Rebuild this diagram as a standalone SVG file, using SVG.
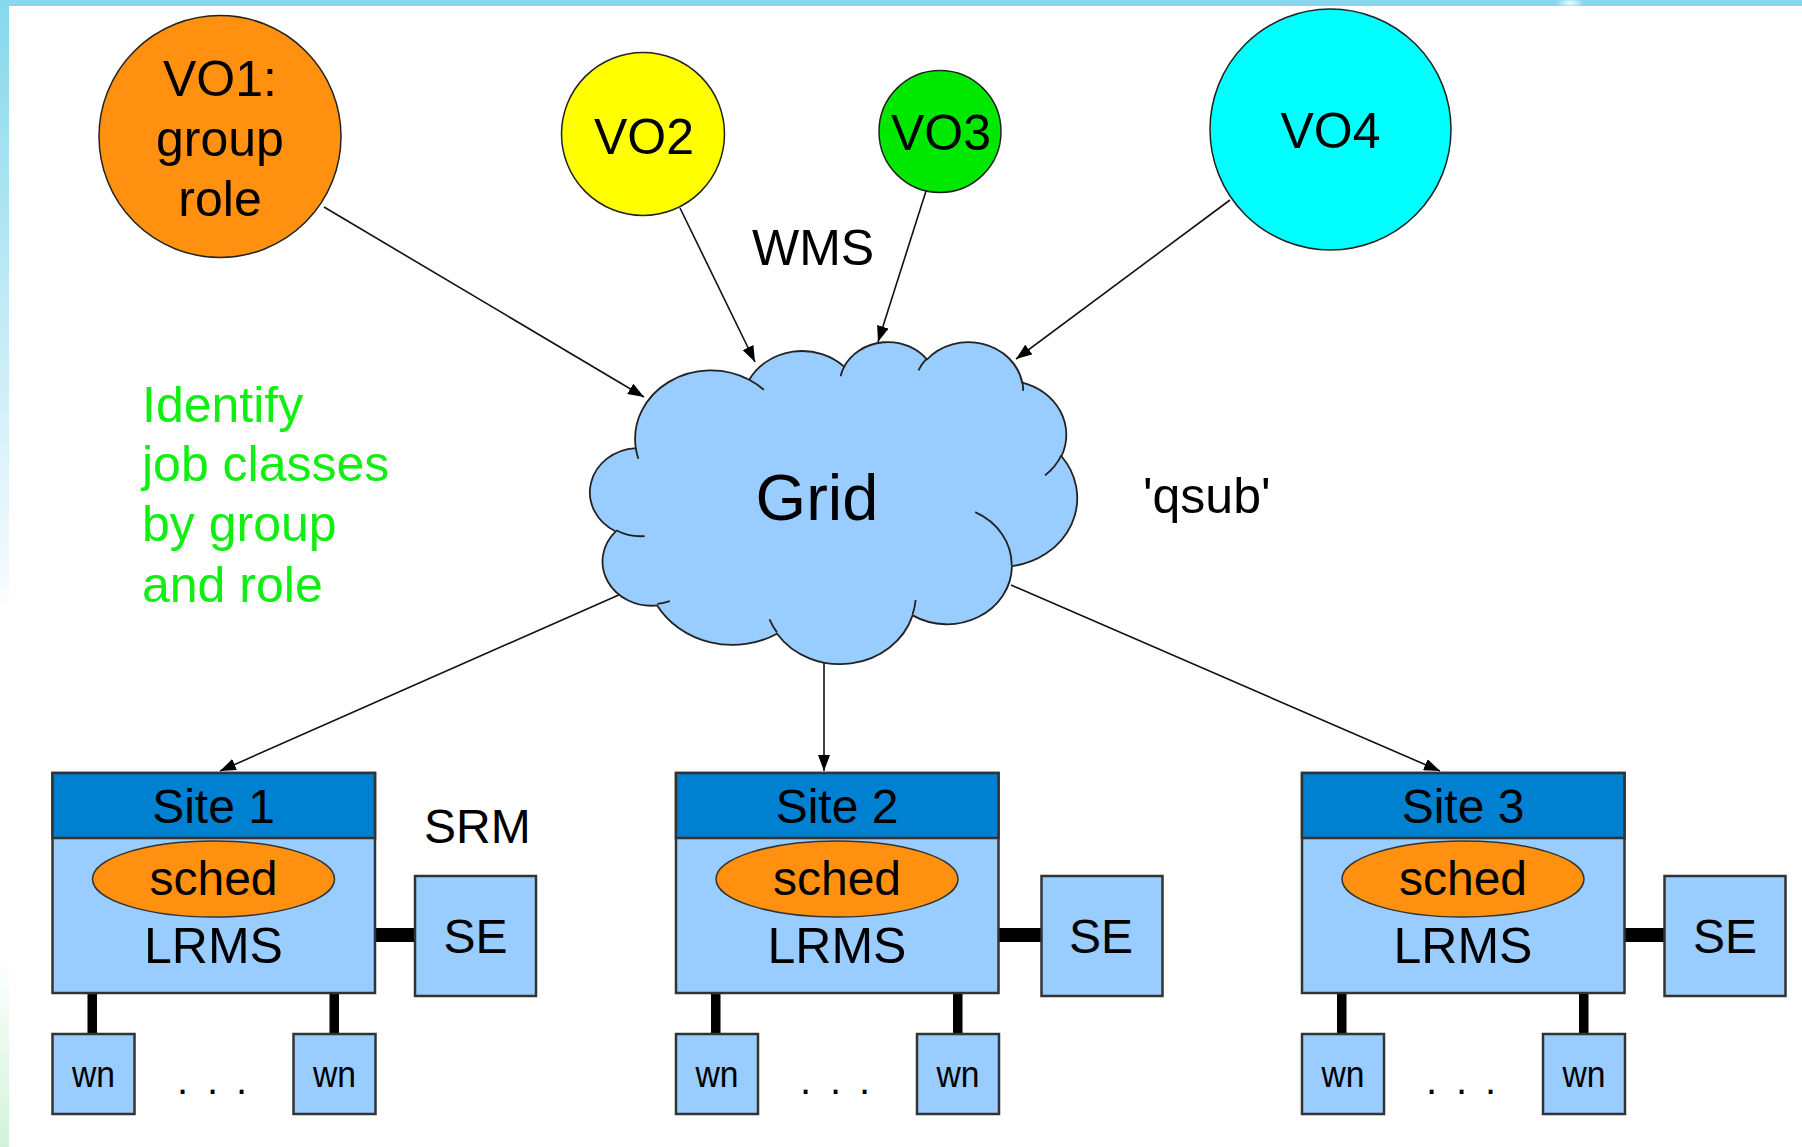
<svg xmlns="http://www.w3.org/2000/svg" width="1802" height="1147" viewBox="0 0 1802 1147">
  <style>
    text { font-family: "Liberation Sans", Arial, sans-serif; fill: #000; }
    .c { text-anchor: middle; }
    .f50 { font-size: 50px; }
    .f48 { font-size: 48px; }
    .green { fill: #11ee11; font-size: 50px; }
    .vo { stroke: #222; stroke-width: 1.5; }
    .body { fill: #99ccff; stroke: #333; stroke-width: 2.5; }
    .head { fill: #0080d0; stroke: #333; stroke-width: 2.5; }
    .box { fill: #99ccff; stroke: #333; stroke-width: 2.5; }
    .sched { fill: #ff9010; stroke: #333; stroke-width: 1.5; }
    .conn { stroke: #111; stroke-width: 1.6; fill: none; marker-end: url(#ah); }
    .bar { fill: #000; }
    .wn { font-size: 36px; }
  </style>
  <defs>
    <marker id="ah" viewBox="0 0 16 12" refX="16" refY="6" markerWidth="16" markerHeight="12" markerUnits="userSpaceOnUse" orient="auto">
      <path d="M0,0 L16,6 L0,12 z" fill="#000"/>
    </marker>
    <linearGradient id="leftband" x1="0" y1="0" x2="0" y2="1">
      <stop offset="0" stop-color="#86d8ec"/>
      <stop offset="0.5" stop-color="#f2fafe"/>
      <stop offset="0.53" stop-color="#ffffff"/>
      <stop offset="0.83" stop-color="#ffffff"/>
      <stop offset="1" stop-color="#d2f3da"/>
    </linearGradient>
    <radialGradient id="glow">
      <stop offset="0" stop-color="#ffffff" stop-opacity="0.9"/>
      <stop offset="1" stop-color="#ffffff" stop-opacity="0"/>
    </radialGradient>
  </defs>

  <rect x="0" y="0" width="1802" height="1147" fill="#ffffff"/>
  <rect x="0" y="0" width="9" height="1147" fill="url(#leftband)"/>
  <rect x="0" y="0" width="1802" height="6" fill="#86d8ec"/>
  <ellipse cx="1570" cy="3" rx="14" ry="5" fill="url(#glow)"/>

  <!-- connectors -->
  <g id="connectors">
    <line class="conn" x1="324" y1="207" x2="644" y2="397"/>
    <line class="conn" x1="680" y1="208" x2="755" y2="362"/>
    <line class="conn" x1="926" y1="191" x2="878" y2="342"/>
    <line class="conn" x1="1230" y1="200" x2="1016" y2="359"/>
    <line class="conn" x1="621" y1="594" x2="220" y2="771"/>
    <line class="conn" x1="824" y1="663" x2="824" y2="771"/>
    <line class="conn" x1="1011" y1="585" x2="1440" y2="771"/>
    <!-- site to SE bars -->
    <rect class="bar" x="375" y="928" width="40" height="14"/>
    <rect class="bar" x="998.5" y="928" width="43" height="14"/>
    <rect class="bar" x="1624.5" y="928" width="40" height="14"/>
    <!-- site to wn bars -->
    <rect class="bar" x="87.5" y="993" width="9.5" height="41"/>
    <rect class="bar" x="329.5" y="993" width="9.5" height="41"/>
    <rect class="bar" x="711" y="993" width="9.5" height="41"/>
    <rect class="bar" x="953" y="993" width="9.5" height="41"/>
    <rect class="bar" x="1337" y="993" width="9.5" height="41"/>
    <rect class="bar" x="1579" y="993" width="9.5" height="41"/>
  </g>

  <!-- VO nodes -->
  <g id="vo1">
    <circle class="vo" cx="220" cy="136.5" r="121" fill="#ff9010"/>
    <text class="c f50" x="220" y="96">VO1:</text>
    <text class="c f50" x="220" y="156">group</text>
    <text class="c f50" x="220" y="216">role</text>
  </g>
  <g id="vo2">
    <circle class="vo" cx="643" cy="134" r="81.5" fill="#ffff00"/>
    <text class="c f50" x="644" y="154">VO2</text>
  </g>
  <g id="vo3">
    <circle class="vo" cx="940" cy="131.5" r="61" fill="#00e800"/>
    <text class="c f50" x="941" y="150">VO3</text>
  </g>
  <g id="vo4">
    <circle class="vo" cx="1330.5" cy="129.5" r="120.5" fill="#00ffff"/>
    <text class="c f50" x="1330.5" y="148">VO4</text>
  </g>

  <!-- Grid cloud -->
  <g id="grid">
    <g transform="translate(592,341) scale(0.011227,0.0074537)">
      <path fill="#99ccff" stroke="#222" stroke-width="1.8" vector-effect="non-scaling-stroke"
        d="M3900 14370 A6753 9190 0 0 1 14005 5202 A5333 7267 0 0 1 22456 3433 A4365 5945 0 0 1 29833 2482 A4857 6595 0 0 1 38318 5576 A5333 7273 0 0 1 41819 15460 A6775 9220 0 0 1 37404 30203 A5785 7867 0 0 1 28556 36813 A6752 9215 0 0 1 16480 39265 A7720 10543 0 0 1 5805 35474 A4360 5918 0 0 1 2113 25552 A4345 5945 0 0 1 3900 14370 Z"/>
      <path fill="none" stroke="#222" stroke-width="1.8" vector-effect="non-scaling-stroke"
        d="M4693 26177 A4345 5945 0 0 1 2159 25380 M6928 34899 A4360 5918 0 0 1 5820 35281 M16478 39090 A6752 9215 0 0 1 15810 37349 M28827 34751 A6752 9215 0 0 1 28561 36660 M34129 22954 A5785 7867 0 0 1 37380 30089 M41798 15354 A5333 7273 0 0 1 40349 18031 M38324 5426 A4857 6595 0 0 1 38400 6690 M29078 3952 A4857 6595 0 0 1 29819 2341 M22141 4720 A4365 5945 0 0 1 22500 3330 M14000 5192 A6753 9190 0 0 1 15301 6542 M4127 15789 A6753 9190 0 0 1 3900 14371"/>
    </g>
    <text class="c" x="817" y="520" style="font-size:65px">Grid</text>
  </g>

  <!-- free labels -->
  <g id="labels">
    <text class="f50" x="752" y="265">WMS</text>
    <text class="f50" x="1143" y="513">'qsub'</text>
    <text class="f48" x="424" y="843">SRM</text>
    <text class="green" x="142" y="422">Identify</text>
    <text class="green" x="142" y="481">job classes</text>
    <text class="green" x="142" y="541">by group</text>
    <text class="green" x="142" y="602">and role</text>
  </g>

  <!-- Sites -->
  <g id="site1" transform="translate(52.5,0)">
    <rect class="body" x="0" y="773" width="322.5" height="220"/>
    <rect class="head" x="0" y="773" width="322.5" height="65"/>
    <text class="c f48" x="161" y="823">Site 1</text>
    <ellipse class="sched" cx="161" cy="879" rx="121" ry="38"/>
    <text class="c f48" x="161" y="895">sched</text>
    <text class="c f50" x="161" y="963">LRMS</text>
  </g>
  <g id="site2" transform="translate(676,0)">
    <rect class="body" x="0" y="773" width="322.5" height="220"/>
    <rect class="head" x="0" y="773" width="322.5" height="65"/>
    <text class="c f48" x="161" y="823">Site 2</text>
    <ellipse class="sched" cx="161" cy="879" rx="121" ry="38"/>
    <text class="c f48" x="161" y="895">sched</text>
    <text class="c f50" x="161" y="963">LRMS</text>
  </g>
  <g id="site3" transform="translate(1302,0)">
    <rect class="body" x="0" y="773" width="322.5" height="220"/>
    <rect class="head" x="0" y="773" width="322.5" height="65"/>
    <text class="c f48" x="161" y="823">Site 3</text>
    <ellipse class="sched" cx="161" cy="879" rx="121" ry="38"/>
    <text class="c f48" x="161" y="895">sched</text>
    <text class="c f50" x="161" y="963">LRMS</text>
  </g>

  <!-- SE nodes -->
  <g id="se1">
    <rect class="box" x="415" y="876" width="121" height="120"/>
    <text class="c f48" x="475.5" y="953">SE</text>
  </g>
  <g id="se2">
    <rect class="box" x="1041.5" y="876" width="121" height="120"/>
    <text class="c f48" x="1101" y="953">SE</text>
  </g>
  <g id="se3">
    <rect class="box" x="1664.5" y="876" width="121" height="120"/>
    <text class="c f48" x="1725" y="953">SE</text>
  </g>

  <!-- worker nodes -->
  <g id="wn1a"><rect class="box" x="52.5" y="1034" width="82" height="80"/><text class="c wn" x="93.5" y="1087" textLength="43" lengthAdjust="spacingAndGlyphs">wn</text></g>
  <g id="wn1b"><rect class="box" x="293.5" y="1034" width="82" height="80"/><text class="c wn" x="334.5" y="1087" textLength="43" lengthAdjust="spacingAndGlyphs">wn</text></g>
  <g id="wn2a"><rect class="box" x="676" y="1034" width="82" height="80"/><text class="c wn" x="717" y="1087" textLength="43" lengthAdjust="spacingAndGlyphs">wn</text></g>
  <g id="wn2b"><rect class="box" x="917" y="1034" width="82" height="80"/><text class="c wn" x="958" y="1087" textLength="43" lengthAdjust="spacingAndGlyphs">wn</text></g>
  <g id="wn3a"><rect class="box" x="1302" y="1034" width="82" height="80"/><text class="c wn" x="1343" y="1087" textLength="43" lengthAdjust="spacingAndGlyphs">wn</text></g>
  <g id="wn3b"><rect class="box" x="1543" y="1034" width="82" height="80"/><text class="c wn" x="1584" y="1087" textLength="43" lengthAdjust="spacingAndGlyphs">wn</text></g>

  <g id="dots">
    <text style="font-size:40px" x="177 192 207 222 236" y="1094">. . .</text>
    <text style="font-size:40px" x="800 815 830 845 859" y="1094">. . .</text>
    <text style="font-size:40px" x="1426 1441 1456 1471 1485" y="1094">. . .</text>
  </g>
</svg>
